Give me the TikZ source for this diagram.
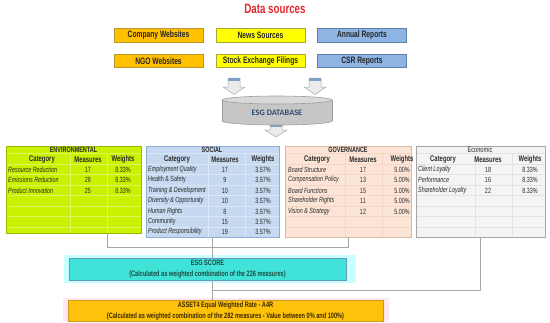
\documentclass[tikz,border=0pt]{standalone}
\usepackage{fontspec}
\setmainfont{Liberation Sans}[FakeStretch=0.72]
\newfontfamily\dbfont{Carlito}
\usetikzlibrary{calc}

\definecolor{titlered}{HTML}{E3262E}
\definecolor{orgfill}{HTML}{FFC000}
\definecolor{orgline}{HTML}{B8962E}
\definecolor{ylwfill}{HTML}{FFFF00}
\definecolor{ylwline}{HTML}{A8A838}
\definecolor{blufill}{HTML}{8DB4E2}
\definecolor{bluline}{HTML}{5F7FA8}
\definecolor{srctext}{HTML}{262626}
\definecolor{arrfill}{HTML}{EBEBEB}
\definecolor{arrline}{HTML}{ABABAB}
\definecolor{arrtop}{HTML}{7F9FC8}
\definecolor{dbfill}{HTML}{C6C6C6}
\definecolor{dbline}{HTML}{9C9C9C}
\definecolor{dbtopfill}{HTML}{D9D9D9}
\definecolor{dbtext}{HTML}{2C4C6C}
\definecolor{envfill}{HTML}{C9F200}
\definecolor{envline}{HTML}{9AB800}
\definecolor{envgrid}{HTML}{DDF55A}
\definecolor{socfill}{HTML}{C6D9F0}
\definecolor{socline}{HTML}{8EAED6}
\definecolor{socgrid}{HTML}{DCE6F5}
\definecolor{govfill}{HTML}{FCE5D6}
\definecolor{govline}{HTML}{D9B8A4}
\definecolor{govgrid}{HTML}{F3D6C6}
\definecolor{ecofill}{HTML}{F4F4F4}
\definecolor{ecoline}{HTML}{A5A5A5}
\definecolor{ecogrid}{HTML}{E2E2E2}
\definecolor{tbltext}{HTML}{2A2A2A}
\definecolor{esgfill}{HTML}{3FE3D8}
\definecolor{esgline}{HTML}{6A96C0}
\definecolor{esghalo}{HTML}{C8FFFF}
\definecolor{esgtext}{HTML}{1E4A42}
\definecolor{a4rfill}{HTML}{FFC20A}
\definecolor{a4rline}{HTML}{C99A1E}
\definecolor{a4rhalo}{HTML}{FFE8F4}
\definecolor{a4rtext}{HTML}{3A2A00}
\definecolor{linkgray}{HTML}{A6A6A6}

\tikzset{
  srcbox/.style={draw, line width=0.9pt, minimum width=89pt, minimum height=13.5pt, inner sep=0pt, text=srctext, font=\bfseries\fontsize{9.3}{10}\selectfont},
  tblbox/.style={draw, line width=0.8pt, inner sep=0pt},
  tbltitle/.style={inner sep=0pt, text=tbltext, font=\bfseries\fontsize{7.6}{8}\selectfont},
  colhead/.style={inner sep=0pt, text=tbltext, font=\bfseries\fontsize{8.2}{9}\selectfont},
  catcell/.style={anchor=west, inner sep=0pt, text=tbltext, font=\itshape\fontsize{7.5}{8}\selectfont},
  numcell/.style={inner sep=0pt, text=tbltext, font=\fontsize{7.5}{8}\selectfont},
  arrbody/.style={fill=arrfill, draw=arrline, line width=0.5pt},
  link/.style={draw=linkgray, line width=0.8pt},
}

\begin{document}
\begin{tikzpicture}[x=1pt,y=1pt,yscale=-1]
\useasboundingbox (0,0) rectangle (550,322);

% Text Node
\node[anchor=base, inner sep=0pt, text=titlered, font=\bfseries\fontsize{13.5}{14}\selectfont] (ttl) at (275,13.5) {Data sources};

%Shape: Source boxes
\node[srcbox, fill=orgfill, draw=orgline] (cweb) at (158.5,35.5) {Company Websites};
\node[srcbox, fill=ylwfill, draw=ylwline] (news) at (260.5,35.5) {News Sources};
\node[srcbox, fill=blufill, draw=bluline] (annual) at (362,35.5) {Annual Reports};
\node[srcbox, fill=orgfill, draw=orgline] (ngo) at (158.5,61) {NGO Websites};
\node[srcbox, fill=ylwfill, draw=ylwline] (stock) at (260.5,61) {Stock Exchange Filings};
\node[srcbox, fill=blufill, draw=bluline] (csr) at (362,61) {CSR Reports};

%Shape: Block arrows
\filldraw[arrbody] (228,78) -- (240,78) -- (240,87) -- (245,87) -- (234,94.5) -- (223,87) -- (228,87) -- cycle;
\fill[arrtop] (228,78) rectangle (240,81);
\filldraw[arrbody] (309,78) -- (321,78) -- (321,87) -- (326,87) -- (315,94.5) -- (304,87) -- (309,87) -- cycle;
\fill[arrtop] (309,78) rectangle (321,81);
\filldraw[arrbody] (270,124) -- (282,124) -- (282,130) -- (287,130) -- (276,137) -- (265,130) -- (270,130) -- cycle;
\fill[arrtop] (270,124) rectangle (282,127);

%Shape: Cylinder
\filldraw[fill=dbfill, draw=dbline, line width=0.6pt] (277,121) ellipse [x radius=55, y radius=4];
\fill[dbfill] (222,100) rectangle (332,121);
\draw[dbline, line width=0.6pt] (222,100) -- (222,121) (332,100) -- (332,121);
\filldraw[fill=dbtopfill, draw=dbline, line width=0.6pt] (277,100) ellipse [x radius=55, y radius=4];
\node[inner sep=0pt, text=dbtext, font=\dbfont\bfseries\fontsize{8.3}{9}\selectfont] (db) at (277,112.5) {ESG DATABASE};

%Shape: Tables
\node[tblbox, fill=envfill, draw=envline, minimum width=135pt, minimum height=87pt] (env) at (73.5,189.5) {};
\node[tblbox, fill=socfill, draw=socline, minimum width=133pt, minimum height=91pt] (soc) at (212.5,191.5) {};
\node[tblbox, fill=govfill, draw=govline, minimum width=126pt, minimum height=91pt] (gov) at (348,191.5) {};
\node[tblbox, fill=ecofill, draw=ecoline, minimum width=129pt, minimum height=91pt] (eco) at (480.5,191.5) {};

% Grid lines
\draw[envgrid, line width=0.5pt] (6.5,153.5) -- (140.5,153.5) (6.5,164.5) -- (140.5,164.5) (6.5,174.5) -- (140.5,174.5) (6.5,185) -- (140.5,185) (6.5,195.5) -- (140.5,195.5) (6.5,206) -- (140.5,206) (6.5,216.5) -- (140.5,216.5) (6.5,227) -- (140.5,227) (70,153.5) -- (70,232.5) (107,153.5) -- (107,232.5);
\draw[socgrid, line width=0.5pt] (146.5,153.5) -- (278.5,153.5) (146.5,164.5) -- (278.5,164.5) (146.5,174.5) -- (278.5,174.5) (146.5,185) -- (278.5,185) (146.5,195.5) -- (278.5,195.5) (146.5,206) -- (278.5,206) (146.5,216.5) -- (278.5,216.5) (146.5,227) -- (278.5,227) (208,153.5) -- (208,236.5) (245,153.5) -- (245,236.5);
\draw[govgrid, line width=0.5pt] (285.5,153.5) -- (410.5,153.5) (285.5,164.5) -- (410.5,164.5) (285.5,174.5) -- (410.5,174.5) (285.5,185) -- (410.5,185) (285.5,195.5) -- (410.5,195.5) (285.5,206) -- (410.5,206) (285.5,216.5) -- (410.5,216.5) (285.5,227) -- (410.5,227) (345,153.5) -- (345,236.5) (382,153.5) -- (382,236.5);
\draw[ecogrid, line width=0.5pt] (416.5,153.5) -- (544.5,153.5) (416.5,164.5) -- (544.5,164.5) (416.5,174.5) -- (544.5,174.5) (416.5,185) -- (544.5,185) (416.5,195.5) -- (544.5,195.5) (416.5,206) -- (544.5,206) (416.5,216.5) -- (544.5,216.5) (416.5,227) -- (544.5,227) (475,153.5) -- (475,236.5) (512,153.5) -- (512,236.5);

% Text Node: environmental
\node[tbltitle] (envT) at (73.5,149.5) {ENVIRONMENTAL};
\node[colhead] (envHc) at (42,159.5) {Category};
\node[colhead] (envHm) at (88,159.5) {Measures};
\node[colhead] (envHw) at (123,159.5) {Weights};
\node[catcell] (envC1) at (8,169.5) {Resource Reduction};
\node[numcell] (envM1) at (88,169.5) {17};
\node[numcell] (envW1) at (123,169.5) {8.33\%};
\node[catcell] (envC2) at (8,180) {Emissions Reduction};
\node[numcell] (envM2) at (88,180) {28};
\node[numcell] (envW2) at (123,180) {8.33\%};
\node[catcell] (envC3) at (8,190.5) {Product Innovation};
\node[numcell] (envM3) at (88,190.5) {25};
\node[numcell] (envW3) at (123,190.5) {8.33\%};

% Text Node: social
\node[tbltitle] (socT) at (212,149.5) {SOCIAL};
\node[colhead] (socHc) at (177,159.5) {Category};
\node[colhead] (socHm) at (225,159.5) {Measures};
\node[colhead] (socHw) at (263,159.5) {Weights};
\node[catcell] (socC1) at (148,169.5) {Employment Quality};
\node[numcell] (socM1) at (225,169.5) {17};
\node[numcell] (socW1) at (263,169.5) {3.57\%};
\node[catcell, font=\fontsize{7.5}{8}\selectfont] (socC2) at (148,180) {Health \& Safety};
\node[numcell] (socM2) at (225,180) {9};
\node[numcell] (socW2) at (263,180) {3.57\%};
\node[catcell] (socC3) at (148,190.5) {Training \& Development};
\node[numcell] (socM3) at (225,190.5) {10};
\node[numcell] (socW3) at (263,190.5) {3.57\%};
\node[catcell] (socC4) at (148,201) {Diversity \& Opportunity};
\node[numcell] (socM4) at (225,201) {10};
\node[numcell] (socW4) at (263,201) {3.57\%};
\node[catcell] (socC5) at (148,211.5) {Human Rights};
\node[numcell] (socM5) at (225,211.5) {8};
\node[numcell] (socW5) at (263,211.5) {3.57\%};
\node[catcell, font=\fontsize{7.5}{8}\selectfont] (socC6) at (148,222) {Community};
\node[numcell] (socM6) at (225,222) {15};
\node[numcell] (socW6) at (263,222) {3.57\%};
\node[catcell] (socC7) at (148,232) {Product Responsibility};
\node[numcell] (socM7) at (225,232) {19};
\node[numcell] (socW7) at (263,232) {3.57\%};

% Text Node: governance
\node[tbltitle] (govT) at (348,149.5) {GOVERNANCE};
\node[colhead] (govHc) at (317,159.5) {Category};
\node[colhead] (govHm) at (363,159.5) {Measures};
\node[colhead] (govHw) at (402,159.5) {Weights};
\node[catcell] (govC1) at (288,169.5) {Board Structure};
\node[numcell] (govM1) at (363,169.5) {17};
\node[numcell] (govW1) at (402,169.5) {5.00\%};
\node[catcell] (govC2) at (288,180) {Compensation Policy};
\node[numcell] (govM2) at (363,180) {13};
\node[numcell] (govW2) at (402,180) {5.00\%};
\node[catcell] (govC3) at (288,190.5) {Board Functions};
\node[numcell] (govM3) at (363,190.5) {15};
\node[numcell] (govW3) at (402,190.5) {5.00\%};
\node[catcell] (govC4) at (288,201) {Shareholder Rights};
\node[numcell] (govM4) at (363,201) {11};
\node[numcell] (govW4) at (402,201) {5.00\%};
\node[catcell] (govC5) at (288,211.5) {Vision \& Strategy};
\node[numcell] (govM5) at (363,211.5) {12};
\node[numcell] (govW5) at (402,211.5) {5.00\%};

% Text Node: economic
\node[tbltitle, font=\fontsize{7.8}{8}\selectfont] (ecoT) at (480,149.5) {Economic};
\node[colhead] (ecoHc) at (443,159.5) {Category};
\node[colhead] (ecoHm) at (488,159.5) {Measures};
\node[colhead] (ecoHw) at (530,159.5) {Weights};
\node[catcell] (ecoC1) at (418,169.5) {Client Loyalty};
\node[numcell] (ecoM1) at (488,169.5) {18};
\node[numcell] (ecoW1) at (530,169.5) {8.33\%};
\node[catcell] (ecoC2) at (418,180) {Performance};
\node[numcell] (ecoM2) at (488,180) {16};
\node[numcell] (ecoW2) at (530,180) {8.33\%};
\node[catcell] (ecoC3) at (418,190.5) {Shareholder Loyalty};
\node[numcell] (ecoM3) at (488,190.5) {22};
\node[numcell] (ecoW3) at (530,190.5) {8.33\%};

%Shape: Score boxes
\fill[esghalo] (64,255) rectangle (356,283);
\node[draw=esgline, fill=esgfill, line width=0.6pt, minimum width=277pt, minimum height=22pt, inner sep=0pt, align=center, text=esgtext, font=\bfseries\fontsize{7.8}{11}\selectfont] (esg) at (207.5,269) {ESG SCORE\\(Calculated as weighted combination of the 226 measures)};
\fill[a4rhalo] (63,298) rectangle (389,322);
\node[draw=a4rline, fill=a4rfill, line width=0.6pt, minimum width=315pt, minimum height=21pt, inner sep=0pt, align=center, text=a4rtext, font=\bfseries\fontsize{7.8}{11}\selectfont] (a4r) at (225.5,310.5) {ASSET4 Equal Weighted Rate - A4R\\(Calculated as weighted combination of the 282 measures - Value between 0\% and 100\%)};

%Straight Lines: connectors
\coordinate (envout) at ($(env.south west)!0.75!(env.south east)$);
\coordinate (join) at (soc.south |- 0,290);
\draw[link] (envout) -- ++(0,14) -| (gov.south);
\draw[link] (soc.south) -- (soc.south |- esg.north);
\draw[link] (soc.south |- esg.south) -- (soc.south |- a4r.north);
\draw[link] (eco.south) |- (join);
\end{tikzpicture}
\end{document}
